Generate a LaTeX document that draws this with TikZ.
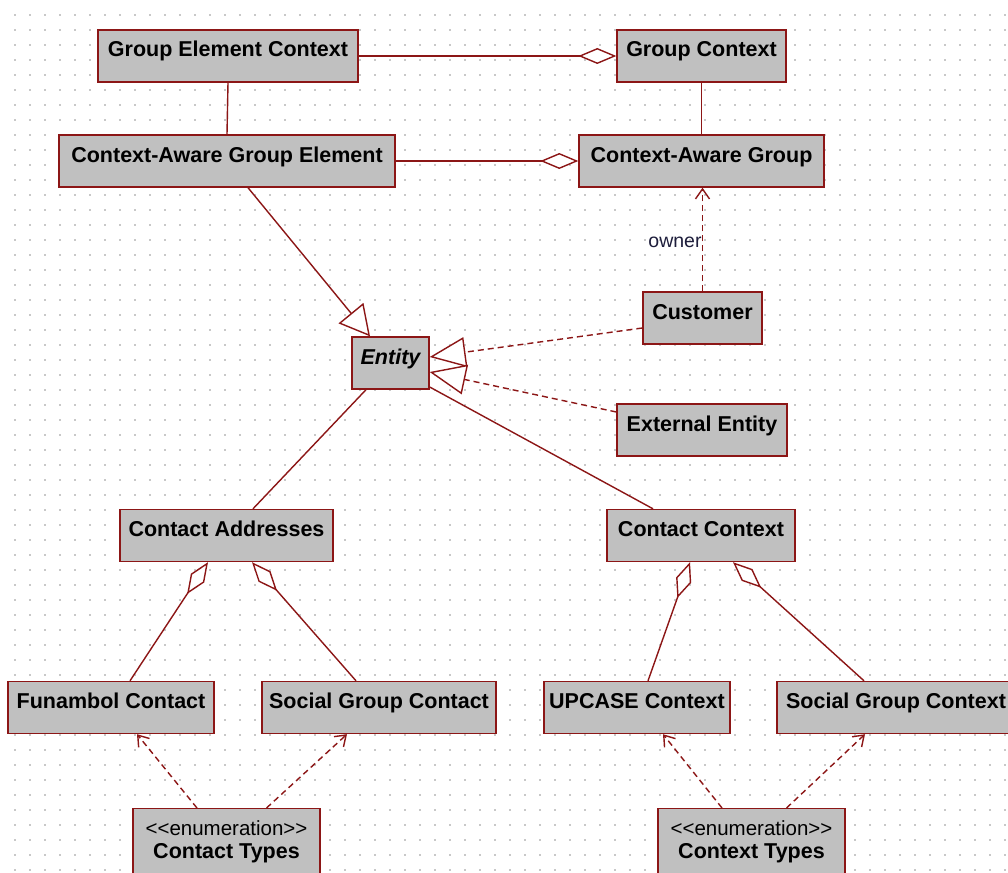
\documentclass[tikz,border=0pt]{standalone}
\usepackage{fontspec}
\setmainfont{Liberation Sans}
\usetikzlibrary{arrows.meta}
\definecolor{umlred}{RGB}{140,22,22}
\definecolor{umlfill}{RGB}{192,192,192}
\definecolor{griddot}{RGB}{200,200,200}
\definecolor{labelink}{RGB}{30,30,60}
\begin{document}
\begin{tikzpicture}[x=1pt,y=-1pt,
  cls/.style={draw=umlred, line width=1.4pt, fill=umlfill, rectangle,
    minimum height=52pt, inner xsep=2pt, inner ysep=11pt,
    text height=16pt, text depth=14pt,
    font=\fontsize{21.5}{25}\selectfont\bfseries},
  enumbox/.style={draw=umlred, line width=1.4pt, fill=umlfill, rectangle,
    minimum height=80pt, inner sep=0pt, anchor=north},
  conn/.style={draw=umlred, line width=1.4pt},
  agg/.style={conn, -{Diamond[fill=white, length=38pt, width=16pt]}},
  gen/.style={conn, -{Triangle[fill=white, length=30pt, width=32pt]}},
  real/.style={conn, dash pattern=on 6pt off 4pt, -{Triangle[fill=white, length=36pt, width=30pt]}},
  dep/.style={conn, dash pattern=on 6pt off 4pt, -{Straight Barb[length=10pt, width=14pt]}},
]
\useasboundingbox (0,0) rectangle (1008,872);
\clip (0,0) rectangle (1008,872);
\fill[white] (0,0) rectangle (1008,872);
\foreach \gx in {15,30,...,1005} {\foreach \gy in {15,30,...,870} {\fill[griddot] (\gx-0.7,\gy-0.7) rectangle ++(1.4,1.4);}}

% classes
\node[cls, minimum width=260pt] (gec) at (228,56) {Group Element Context};
\node[cls, minimum width=169pt] (gc) at (701.5,56) {Group Context};
\node[cls, minimum width=336pt] (cage) at (227,161) {Context-Aware Group Element};
\node[cls, minimum width=245pt] (cag) at (701.5,161) {Context-Aware Group};
\node[cls, minimum width=77pt] (entity) at (390.5,363) {\itshape Entity};
\node[cls, minimum width=119pt] (customer) at (702.5,318) {Customer};
\node[cls, minimum width=170pt] (ext) at (702,430) {External Entity};
\node[cls, minimum width=213pt] (ca) at (226.5,535.5) {Contact Addresses};
\node[cls, minimum width=188pt] (cc) at (701,535.5) {Contact Context};
\node[cls, minimum width=206pt] (fc) at (111,707.5) {Funambol Contact};
\node[cls, minimum width=234pt] (sgc) at (379,707.5) {Social Group Contact};
\node[cls, minimum width=186pt] (up) at (637,707.5) {UPCASE Context};
\node[cls, minimum width=238pt] (sgx) at (896,707.5) {Social Group Context};
\node[enumbox, minimum width=187pt] (ct) at (226.5,808) {};
\node[enumbox, minimum width=187pt] (xt) at (751.5,808) {};
\node[anchor=base, inner sep=0pt, font=\fontsize{20.5}{24}\selectfont] (ctst) at (226.5,835) {<{}<enumeration>{}>};
\node[anchor=base, inner sep=0pt, font=\fontsize{21.5}{25}\selectfont\bfseries] (ctname) at (226.5,858) {Contact Types};
\node[anchor=base, inner sep=0pt, font=\fontsize{20.5}{24}\selectfont] (xtst) at (751.5,835) {<{}<enumeration>{}>};
\node[anchor=base, inner sep=0pt, font=\fontsize{21.5}{25}\selectfont\bfseries] (xtname) at (751.5,858) {Context Types};

% connectors
\draw[agg] (gec.east) -- (gc.west);
\draw[conn] (gec.south) -- (cage.north);
\draw[conn] (gc.south) -- (cag.north);
\draw[agg] (cage.east) -- (cag.west);
\draw[gen] ([xshift=21pt]cage.south) -- ([xshift=-20.5pt]entity.north);
\draw[dep] (customer.north) -- (customer.north |- cag.south);
\node[text=labelink, font=\fontsize{19.5}{22}\selectfont, inner sep=0pt] (owner) at (675,242) {owner};
\draw[real] ([yshift=-10pt]customer.west) -- ([yshift=6pt]entity.east);
\draw[real] ([yshift=18pt]ext.west) -- ([yshift=-9pt]entity.east);
\draw[conn] ([xshift=-24.5pt]entity.south) -- ([xshift=26.5pt]ca.north);
\draw[conn] ([yshift=-24pt]entity.east) -- ([xshift=-48pt]cc.north);
\draw[agg] ([xshift=19pt]fc.north) -- ([xshift=-18.5pt]ca.south);
\draw[agg] ([xshift=-23pt]sgc.north) -- ([xshift=25.5pt]ca.south);
\draw[agg] ([xshift=11pt]up.north) -- ([xshift=-11pt]cc.south);
\draw[agg] ([xshift=-32pt]sgx.north) -- ([xshift=32pt]cc.south);
\draw[dep] ([xshift=-29.5pt]ct.north) -- ([xshift=26pt]fc.south);
\draw[dep] ([xshift=40pt]ct.north) -- ([xshift=-32pt]sgc.south);
\draw[dep] ([xshift=-29.5pt]xt.north) -- ([xshift=26pt]up.south);
\draw[dep] ([xshift=35pt]xt.north) -- ([xshift=-31pt]sgx.south);
\end{tikzpicture}
\end{document}
